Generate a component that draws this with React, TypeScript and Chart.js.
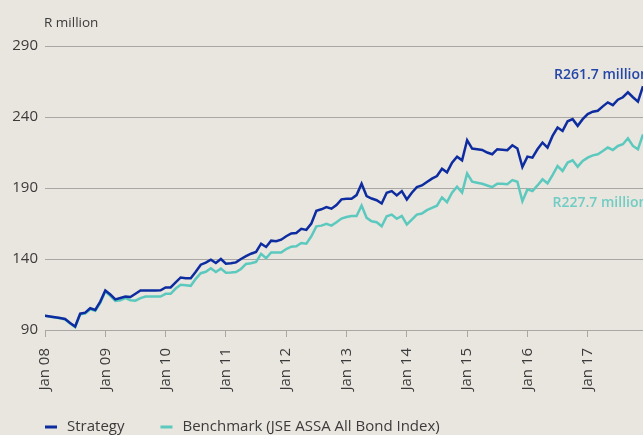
import React, { useEffect, useRef } from "react";
import { Chart, registerables } from "chart.js";

Chart.register(...registerables);

// ---- data ----
const yearLabels = ["Jan 08", "Jan 09", "Jan 10", "Jan 11", "Jan 12", "Jan 13", "Jan 14", "Jan 15", "Jan 16", "Jan 17"];
const yearTickMonths = [0, 12, 24, 36, 48, 60, 72, 84, 96, 108];
const yTickValues = [90, 140, 190, 240, 290];
const seriesNames = ["Strategy", "Benchmark (JSE ASSA All Bond Index)"];
const endLabels = ["R261.7 million", "R227.7 million"];
const yAxisTitle = "R million";

// monthly values, Jan 2008 .. Dec 2017
const strategy = [
  100, 99.5, 99, 98.5, 97.8, 95, 92.5, 101.5, 102.2, 105.3, 104.1, 110,
  117.8, 115, 111.5, 112.5, 113.5, 113.2, 115.5, 117.8, 117.8, 117.8, 117.8, 118,
  120, 120, 123.5, 127, 126.5, 126.5, 131, 136, 137.5, 139.5, 137.2, 140,
  136.7, 137, 137.6, 140, 142, 143.7, 145, 150.8, 148.5, 152.9, 152.5, 153.6,
  156, 158, 158.3, 161.2, 160.5, 165, 174, 175, 176.5, 175.4, 178, 182,
  182.4, 182.4, 185, 193, 184.3, 182.6, 181.4, 179.1, 186.7, 187.8, 184.8, 187.8,
  181.9, 186.7, 190.6, 191.8, 194.2, 196.6, 198.4, 203.6, 201, 207.9, 212.1, 209.5,
  223.7, 217.8, 217.3, 216.8, 215, 213.8, 217.3, 217, 216.6, 220.1, 217.8, 204.8,
  212.1, 211.4, 217.3, 222, 218.5, 226.7, 232.6, 230.2, 237, 238.5, 233.8, 238.5,
  242, 243.7, 244.4, 247.5, 250.3, 248.4, 252.2, 253.9, 257.4, 253.9, 250.8, 261.7,
];
const benchmark = [
  100, 99.3, 98.8, 98.3, 97.3, 94.5, 92, 101, 101.5, 104.5, 103.5, 109,
  117.1, 114, 110.5, 111, 112.4, 111, 110.7, 112.5, 113.6, 113.6, 113.6, 113.6,
  115.5, 115.5, 119.2, 121.8, 121.5, 121.1, 126, 130, 131, 133.5, 130.8, 133.2,
  130.3, 130.5, 130.8, 133, 136.5, 137, 138, 143.6, 140.5, 144.6, 144.5, 144.5,
  147, 148.7, 148.9, 151.3, 150.8, 156, 163, 163.5, 164.7, 163.5, 165.9, 168.5,
  169.6, 170.3, 170.3, 177.7, 169, 166.6, 165.9, 163, 170.1, 171.3, 168.3, 170.3,
  164.3, 167.8, 171.3, 172, 174.4, 176, 177.5, 183.4, 180, 186.7, 190.9, 186.7,
  200.3, 194.4, 193.7, 193, 191.8, 190.6, 193, 193, 192.7, 195.6, 194.4, 180.7,
  189, 187.8, 191.8, 196.1, 193.3, 199, 205.5, 202, 207.9, 209.5, 205, 209,
  211.4, 213, 213.8, 216, 218.5, 216.8, 219.6, 220.8, 225, 219.6, 217.3, 227.7,
];

// ---- styles ----
const BG = "#e9e5df";
const TEXT = "#3b3b3b";
const GRID = "#a9a7a4";
const STRATEGY_COLOR = "#0d2c9f";
const BENCH_COLOR = "#5cc9be";
const STRATEGY_LABEL = "#2446a8";
const BENCH_LABEL = "#6fcdc3";
const FONT = '"Open Sans", sans-serif';

const overlayPlugin = {
  id: "overlay",
  beforeDraw(chart: any) {
    const { ctx, width, height } = chart;
    ctx.save();
    ctx.fillStyle = BG;
    ctx.fillRect(0, 0, width, height);
    ctx.restore();
  },
  afterDraw(chart: any) {
    const { ctx, chartArea, scales } = chart;
    const xs = scales.x;
    const ys = scales.y;
    const lastIdx = strategy.length - 1;
    ctx.save();
    // axis title
    ctx.font = `13.5px ${FONT}`;
    ctx.fillStyle = TEXT;
    ctx.textAlign = "left";
    ctx.textBaseline = "middle";
    ctx.fillText(yAxisTitle, chartArea.left - 1, 23);

    // end labels
    ctx.font = `600 14px ${FONT}`;
    ctx.fillStyle = STRATEGY_LABEL;
    ctx.fillText(endLabels[0], xs.getPixelForValue(lastIdx - 17.7), ys.getPixelForValue(strategy[lastIdx]) - 11);
    ctx.fillStyle = BENCH_LABEL;
    ctx.fillText(endLabels[1], xs.getPixelForValue(lastIdx - 18), ys.getPixelForValue(benchmark[lastIdx]) + 69);

    // legend
    ctx.font = `15px ${FONT}`;
    const colors = [STRATEGY_COLOR, BENCH_COLOR];
    let lx = chartArea.left;
    const ly = 427;
    seriesNames.forEach((name, i) => {
      ctx.fillStyle = colors[i];
      ctx.fillRect(lx, ly - 1.5, 12, 3);
      ctx.fillStyle = TEXT;
      ctx.fillText(name, lx + 22, ly);
      lx += 22 + ctx.measureText(name).width + 36;
    });
    ctx.restore();
  },
};

export default function App() {
  const canvasRef = useRef<HTMLCanvasElement | null>(null);

  useEffect(() => {
    document.body.style.margin = "0";
    document.body.style.background = BG;
    const canvas = canvasRef.current;
    if (!canvas) return;
    const chart = new Chart(canvas, {
      type: "line",
      data: {
        datasets: [
          {
            label: seriesNames[1],
            data: benchmark.map((v, i) => ({ x: i, y: v })),
            borderColor: BENCH_COLOR,
            backgroundColor: BENCH_COLOR,
            borderWidth: 2.5,
            pointRadius: 0,
            tension: 0,
            order: 2,
          },
          {
            label: seriesNames[0],
            data: strategy.map((v, i) => ({ x: i, y: v })),
            borderColor: STRATEGY_COLOR,
            backgroundColor: STRATEGY_COLOR,
            borderWidth: 2.5,
            pointRadius: 0,
            tension: 0,
            order: 1,
          },
        ],
      },
      options: {
        animation: false,
        responsive: true,
        maintainAspectRatio: false,
        layout: { padding: { top: 46, left: 0, right: 0, bottom: 0 } },
        plugins: {
          legend: { display: false },
          tooltip: { enabled: false },
          title: { display: false },
        },
        scales: {
          x: {
            type: "linear",
            min: 0,
            max: strategy.length - 1,
            afterBuildTicks: (axis: any) => {
              axis.ticks = yearTickMonths.map((v) => ({ value: v }));
            },
            afterFit: (scale: any) => {
              scale.height = 105;
            },
            grid: {
              display: true,
              drawOnChartArea: false,
              drawTicks: true,
              tickLength: 7,
              color: GRID,
              lineWidth: 1,
            },
            border: { display: true, color: GRID, width: 1 },
            ticks: {
              autoSkip: false,
              minRotation: 90,
              maxRotation: 90,
              padding: 11,
              color: TEXT,
              font: { family: FONT, size: 15 },
              callback: (value: any) => {
                const idx = yearTickMonths.indexOf(Number(value));
                return idx >= 0 ? yearLabels[idx] : "";
              },
            },
          },
          y: {
            min: 90,
            max: 290,
            afterBuildTicks: (axis: any) => {
              axis.ticks = yTickValues.map((v) => ({ value: v }));
            },
            afterFit: (scale: any) => {
              scale.width = 45;
            },
            grid: { color: GRID, lineWidth: 1, drawTicks: false },
            border: { display: false },
            ticks: {
              padding: 7,
              color: TEXT,
              font: { family: FONT, size: 15 },
            },
          },
        },
      },
      plugins: [overlayPlugin],
    });
    return () => chart.destroy();
  }, []);

  return (
    <div style={{ width: 643, height: 435, position: "relative", background: BG }}>
      <canvas ref={canvasRef} style={{ display: "block" }} />
    </div>
  );
}
